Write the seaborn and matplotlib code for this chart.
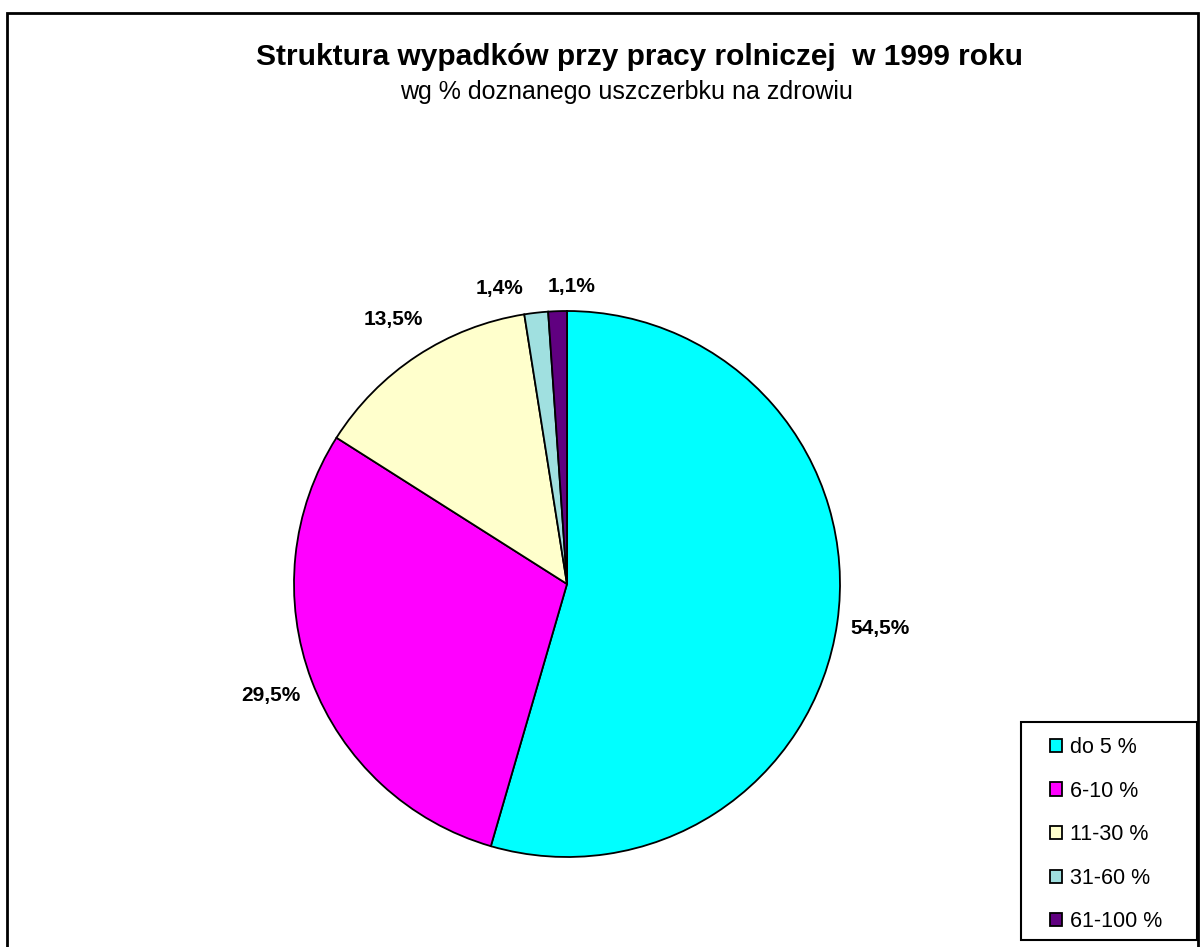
import matplotlib.pyplot as plt
import matplotlib.patches as mpatches
import seaborn as sns

# Dane
kategorie = ["do 5 %", "6-10 %", "11-30 %", "31-60 %", "61-100 %"]
udzialy = [54.5, 29.5, 13.5, 1.4, 1.1]
etykiety = ["54,5%", "29,5%", "13,5%", "1,4%", "1,1%"]
kolory = ["#00FFFF", "#FF00FF", "#FFFFCC", "#A0E0E0", "#600080"]

sns.set_theme(style="white")
plt.rcParams["font.family"] = ["Liberation Sans", "DejaVu Sans"]
plt.rcParams["text.color"] = "black"

W, H = 1201, 947
fig = plt.figure(figsize=(W / 100, H / 100), dpi=100)
fig.patch.set_facecolor("white")

# obramowanie wykresu
fig.add_artist(mpatches.Rectangle((7 / W, -0.01), 1191 / W, (H - 13) / H + 0.01,
                                  transform=fig.transFigure, fill=False,
                                  edgecolor="black", linewidth=2))

# os kolowa - kwadrat w pikselach
cx, cy, r = 567, 584, 273
ax = fig.add_axes([(cx - r) / W, (H - cy - r) / H, 2 * r / W, 2 * r / H])
wedges, texts = ax.pie(udzialy, labels=etykiety, colors=sns.color_palette(kolory),
                       startangle=90, counterclock=False, labeldistance=1.16,
                       wedgeprops=dict(edgecolor="black", linewidth=1.3),
                       textprops=dict(fontsize=15, fontweight="bold", color="black"))
for t in texts:
    t.set_ha("center")
# male wycinki - etykiety obok siebie
texts[3].set_ha("right")
texts[4].set_ha("left")
for t in texts[3:]:
    x, y = t.get_position()
    t.set_position((x - 0.03, y * 0.94))
ax.set_xlim(-1, 1)
ax.set_ylim(-1, 1)
ax.set_aspect("auto")
ax.axis("off")

fig.text(640 / W, 1 - 57 / H, "Struktura wypadków przy pracy rolniczej  w 1999 roku",
         ha="center", va="center", fontsize=21.5, fontweight="bold")
fig.text(626 / W, 1 - 92 / H, "wg % doznanego uszczerbku na zdrowiu",
         ha="center", va="center", fontsize=18)

# legenda
fig.add_artist(mpatches.Rectangle((1021 / W, (H - 940) / H), 176 / W, 218 / H,
                                  transform=fig.transFigure, facecolor="white",
                                  edgecolor="black", linewidth=1.5, zorder=3))
leg = fig.legend(wedges, kategorie, loc="upper left",
                 bbox_to_anchor=(1050 / W, 1 - 737 / H), bbox_transform=fig.transFigure,
                 fontsize=15.5, frameon=False,
                 handlelength=0.56, handleheight=0.56, handletextpad=0.37,
                 labelspacing=1.05, borderpad=0, borderaxespad=0)
leg.set_zorder(4)
for h in leg.legend_handles:
    h.set_edgecolor("black")
    h.set_linewidth(1.3)

fig.savefig("out.png", dpi=100)
